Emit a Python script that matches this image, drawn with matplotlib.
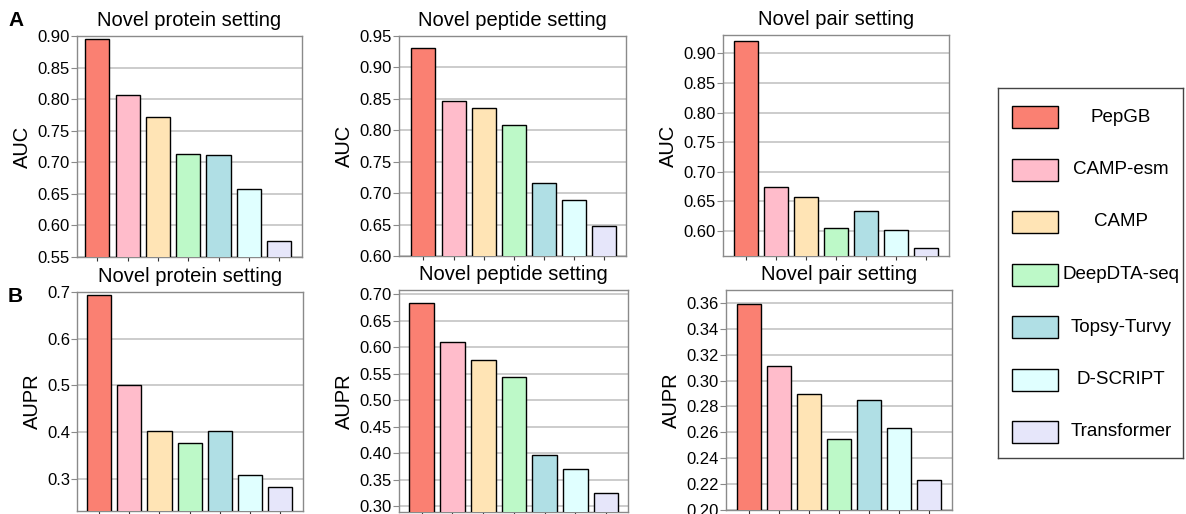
import matplotlib
matplotlib.use("Agg")
import matplotlib.pyplot as plt
from matplotlib.patches import Rectangle
import numpy as np

plt.rcParams['font.family'] = ['Liberation Sans', 'DejaVu Sans']

# methods and their colours
methods = ['PepGB', 'CAMP-esm', 'CAMP', 'DeepDTA-seq', 'Topsy-Turvy', 'D-SCRIPT', 'Transformer']
colors = ['#FA8072', '#FFBCCB', '#FFE4B5', '#BDF9C8', '#B0DFE5', '#E0FFFF', '#E6E6FA']

settings = ['Novel protein setting', 'Novel peptide setting', 'Novel pair setting']

# AUC per setting (row A)
auc_protein = [0.895, 0.806, 0.771, 0.713, 0.711, 0.658, 0.575]
auc_peptide = [0.931, 0.846, 0.835, 0.809, 0.716, 0.689, 0.648]
auc_pair = [0.921, 0.675, 0.657, 0.606, 0.634, 0.602, 0.572]

# AUPR per setting (row B)
aupr_protein = [0.693, 0.501, 0.402, 0.376, 0.402, 0.308, 0.283]
aupr_peptide = [0.684, 0.609, 0.575, 0.544, 0.396, 0.371, 0.325]
aupr_pair = [0.3595, 0.311, 0.290, 0.255, 0.285, 0.263, 0.223]

rows = [
    ('AUC', [auc_protein, auc_peptide, auc_pair]),
    ('AUPR', [aupr_protein, aupr_peptide, aupr_pair]),
]

W, H = 1186, 514
# axes boxes in pixels: left, top, right, bottom
boxes = [
    [(77, 36, 302, 257), (399, 36, 626, 256), (723, 35, 949, 256)],
    [(77, 292, 303, 511), (399, 290, 628, 512), (726, 290, 952, 510)],
]
ylims = [
    [(0.55, 0.90), (0.60, 0.95), (0.558, 0.931)],
    [(0.231, 0.70), (0.289, 0.708), (0.20, 0.370)],
]
yticks = [
    [np.arange(0.55, 0.901, 0.05), np.arange(0.60, 0.951, 0.05), np.arange(0.60, 0.901, 0.05)],
    [np.arange(0.3, 0.701, 0.1), np.arange(0.30, 0.701, 0.05), np.arange(0.20, 0.361, 0.02)],
]
ytickfmt = [['%.2f', '%.2f', '%.2f'], ['%.1f', '%.2f', '%.2f']]
xlims = [
    [(-0.67, 6.75), (-0.81, 6.72), (-0.75, 6.75)],
    [(-0.73, 6.75), (-0.74, 6.71), (-0.75, 6.75)],
]

fig = plt.figure(figsize=(W / 100, H / 100), dpi=100)

x = np.arange(len(methods))
for r, (metric, series) in enumerate(rows):
    for c, vals in enumerate(series):
        l, t, rr, b = boxes[r][c]
        ax = fig.add_axes([l / W, 1 - b / H, (rr - l) / W, (b - t) / H])
        ax.bar(x, vals, width=0.8, color=colors, edgecolor='black', linewidth=1.0, zorder=3)
        ax.set_xlim(*xlims[r][c])
        ax.set_ylim(*ylims[r][c])
        ax.set_yticks(yticks[r][c])
        ax.set_yticklabels([ytickfmt[r][c] % v for v in yticks[r][c]])
        ax.set_xticks(x)
        ax.set_xticklabels([])
        ax.yaxis.grid(True, color='#c8c8c8', linewidth=1.3, zorder=0)
        ax.set_axisbelow(True)
        for sp in ax.spines.values():
            sp.set_color('#8a8a8a')
            sp.set_linewidth(1.0)
        ax.tick_params(axis='y', labelsize=12, length=4, color='#8a8a8a', pad=1)
        ax.tick_params(axis='x', length=3, color='#333333')
        ax.set_title(settings[c], fontsize=14.5, pad=7)
        ax.set_ylabel(metric, fontsize=14.5, labelpad=4)

fig.text(8 / W, 1 - 20 / H, 'A', fontsize=15, fontweight='bold', va='center')
fig.text(8 / W, 1 - 296 / H, 'B', fontsize=15, fontweight='bold', va='center')

# legend drawn as its own box
lax = fig.add_axes([998 / W, 1 - 458 / H, 185 / W, 370 / H])
lax.set_xlim(998, 1183)
lax.set_ylim(458, 88)
lax.set_xticks([])
lax.set_yticks([])
for sp in lax.spines.values():
    sp.set_color('#444444')
    sp.set_linewidth(1.0)
for i, (m, col) in enumerate(zip(methods, colors)):
    yc = 117 + i * 52.5
    lax.add_patch(Rectangle((1012, yc - 11), 46, 22, facecolor=col, edgecolor='black', linewidth=1.0))
    lax.text(1121, yc, m, fontsize=13.5, ha='center', va='center')

fig.savefig('out.png', dpi=100)
